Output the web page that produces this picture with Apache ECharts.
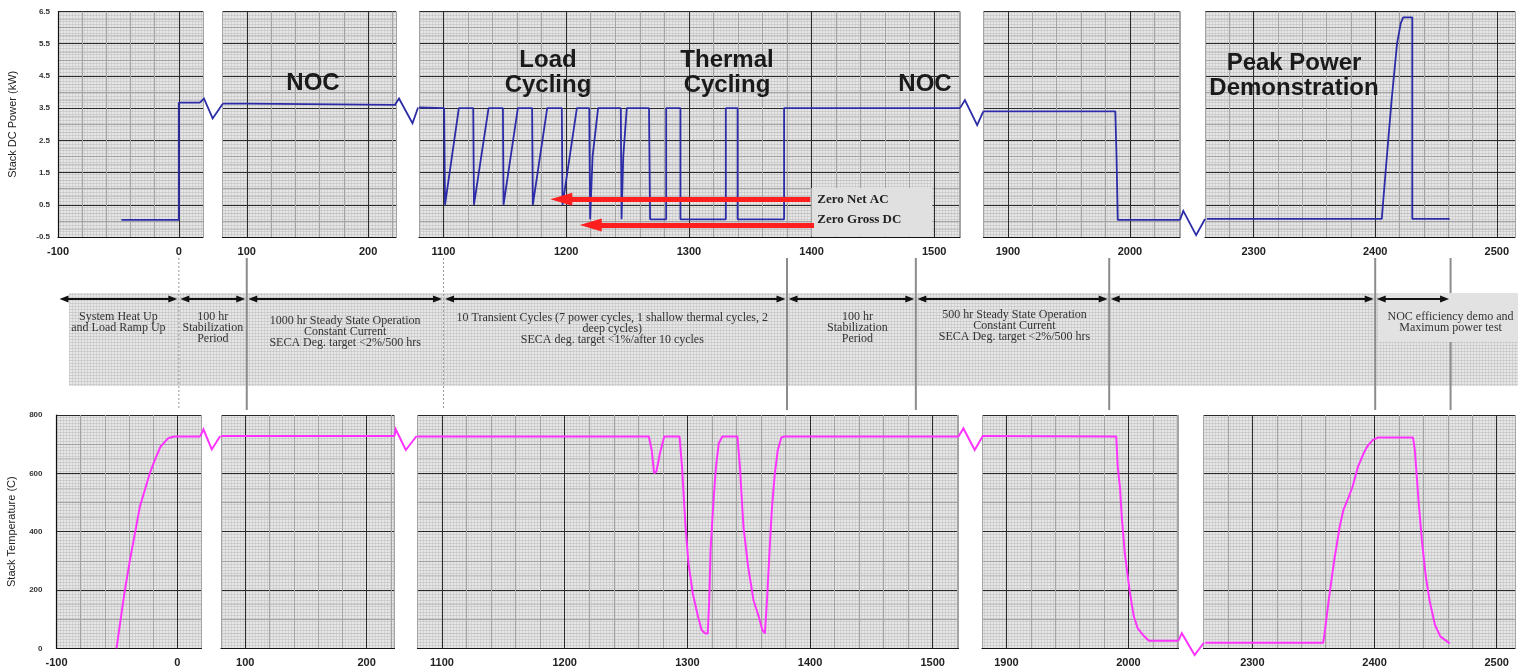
<!DOCTYPE html>
<html><head><meta charset="utf-8">
<script src="https://cdn.jsdelivr.net/npm/echarts@6/dist/echarts.min.js"></script>
<style>html,body{margin:0;padding:0;background:#fff}#c{width:1518px;height:670px}</style>
</head><body><div id="c"></div>
<script>
// ---------------- DATA ----------------
const panelHours = [[-100, 20], [80, 223], [1080, 1521], [1880, 2041], [2260, 2515]];
const powerRange = [-0.5, 6.5];
const tempRange = [0, 800];

const powerP1 = [[-47.5,0.03],[0,0.03],[0,3.67],[17.5,3.67]];
const powerP2 = [[80,3.64],[100,3.64],[100,3.6],[223,3.6]];
const powerP3 = [[1080,3.52],[1100.5,3.5],[1101.2,0.5],[1112.5,3.5],
  [1124.2,3.5],[1124.8,0.5],[1136.7,3.5],
  [1148.4,3.5],[1148.9,0.5],[1160.6,3.5],
  [1172.2,3.5],[1172.8,0.5],[1184.5,3.5],
  [1196.4,3.5],[1197,0.5],[1208.7,3.5],
  [1218.8,3.5],[1219.5,0.05],[1220.5,0.05],[1221.5,2.0],[1226,3.5],
  [1244.5,3.5],[1245.1,0.05],[1246,0.05],[1246.5,2.0],[1249.4,3.5],
  [1267.5,3.5],[1268.4,0.05],[1281.5,0.05],[1281.5,3.5],
  [1293.1,3.5],[1293.1,0.05],[1330.1,0.05],[1330.1,3.5],
  [1339.7,3.5],[1339.7,0.05],[1377.6,0.05],[1377.6,3.5],[1521,3.5]];
const powerP4 = [[1880,3.4],[1988,3.4],[1989,2.0],[1990,0.03],[2041,0.03]];
const powerP5 = [[2261.5,0.06],[2405.4,0.06],[2408.9,1.68],[2413.5,3.75],[2418,5.51],[2421,6.13],[2423,6.32],[2430.5,6.32],[2430.5,0.06],[2461.3,0.06]];

const tempP1 = [[-50.3,0],[-48.3,60],[-43.4,200],[-39.2,303],[-35.1,394],[-31,486],[-26.9,543],[-22.8,600],[-18.6,646],[-14,691],[-7.7,720],[-2.7,726],[18.9,726]];
const tempP2 = [[80,728],[223,728]];
const tempP3 = [[1080,726],[1268.6,726],[1270.9,680],[1272.9,600],[1274.7,606],[1277.6,668],[1281.1,726],
  [1293.6,726],[1295.6,623],[1298.5,417],[1300.9,291],[1304.4,188],[1308.7,108],[1311.6,63],[1314.6,51],[1316.6,51],
  [1317.8,165],[1318.9,337],[1321.3,508],[1323.3,623],[1325.6,703],[1328.5,726],
  [1340.8,726],[1342.8,623],[1345.7,417],[1349.5,280],[1353.9,165],[1358.2,108],[1361.1,63],[1363.2,51],
  [1364.9,165],[1367,337],[1369,486],[1371.3,600],[1373.7,680],[1376.6,723],[1378.6,726],[1521,726]];
const tempP4 = [[1880,728],[1990,726],[1991.2,623],[1993,554],[1994.5,451],[1997,326],[1999.1,257],[2000.9,200],[2003,143],[2004.5,108],[2007.6,68],[2012.1,45],[2016.7,26],[2041,26]];
const tempP5 = [[2261.5,19],[2358,19],[2359.5,63],[2362.5,165],[2367,302],[2371.5,417],[2374.5,474],[2379,520],[2382,554],[2386.5,623],[2391,668],[2394,692],[2398.5,714],[2403,723],[2431.5,723],[2433,680],[2436,508],[2439,360],[2442,246],[2445,165],[2449.5,80],[2454,40],[2461.6,17]];

// axis-break zigzags (in the left panel's hour units, continuing past its edge)
const powerBreaks = [
  [[17.5,3.67],[20.8,3.8],[28,3.18],[36.2,3.63]],
  [[222,3.6],[225.5,3.8],[236.6,3.03],[241.2,3.52]],
  [[1521,3.5],[1525,3.75],[1535,2.97],[1540,3.4]],
  [[2041,0.03],[2043.7,0.31],[2054.2,-0.44],[2061.5,0.06]]
];
const tempBreaks = [
  [[18.9,726],[21.6,751],[28.5,682],[35.5,728]],
  [[223,728],[224,751],[232.3,680],[241.3,728]],
  [[1521,726],[1525,754],[1534.2,680],[1540.8,728]],
  [[2041,26],[2043.7,52],[2054.2,-23],[2061.8,19]]
];

const zeroArrows = [
  {label:'Zero Net AC', from:[1399,0.67], to:[1196,0.67]},
  {label:'Zero Gross DC', from:[1402,-0.13], to:[1220,-0.13]}
];

const panelTitles = ['NOC', 'Load\nCycling', 'Thermal\nCycling', 'NOC', 'Peak Power\nDemonstration'];

// phase boundaries [panel, hour]
const phaseBounds = [[0,-100],[0,0],[1,100],[2,1100],[2,1380],[2,1485],[3,1983],[4,2400],[4,2462]];
const phaseNotes = [
  ['System Heat Up','and Load Ramp Up'],
  ['100 hr','Stabilization','Period'],
  ['1000 hr Steady State Operation','Constant Current','SECA Deg. target <2%/500 hrs'],
  ['10 Transient Cycles (7 power cycles, 1 shallow thermal cycles, 2','deep cycles)','SECA deg. target <1%/after 10 cycles'],
  ['100 hr','Stabilization','Period'],
  ['500 hr Steady State Operation','Constant Current','SECA Deg. target <2%/500 hrs'],
  [],
  ['NOC efficiency demo and','Maximum power test']
];

const powerData = [powerP1, powerP2, powerP3, powerP4, powerP5];
const tempData = [tempP1, tempP2, tempP3, tempP4, tempP5];

// ---------------- LAYOUT ----------------
const panelLeft = [58, 222.5, 419, 983.5, 1205];
const panelWidth = [145, 173.5, 541, 196.5, 313];
const bottomShift = -1.5;
const ROWS = [{top: 11.5, height: 225.5}, {top: 415, height: 233.3}];
const DARK = '#2a2a2a', GREY = '#a4a4a4', MINOR = '#c4c4c4';
const BLUE = '#2c2ca8', MAGENTA = '#ff33ff';
const titlePos = [[313,83],[548,73],[727,73],[925,84],[1294,75.5]];
const noteTop = [311,311,315,312,311,309,0,311];
const noteShift = [0,0,0,-3,6,2,0,null];

// fine dotted texture of the plot panels
const tex = document.createElement('canvas');
tex.width = 3; tex.height = 3;
(function () {
  const c = tex.getContext('2d');
  c.fillStyle = '#e6e6e6'; c.fillRect(0, 0, 3, 3);
  c.fillStyle = '#d0d0d0'; c.fillRect(0, 0, 3, 1);
  c.fillStyle = '#d4d4d4'; c.fillRect(0, 0, 1, 3);
  c.fillStyle = '#c6c6c6'; c.fillRect(0, 0, 1, 1);
})();
const BG = {image: tex, repeat: 'repeat'};

const chart = echarts.init(document.getElementById('c'));
const grids = [], xAxes = [], yAxes = [], series = [];

for (let row = 0; row < 2; row++) {
  for (let i = 0; i < 5; i++) {
    const gi = row * 5 + i;
    grids.push({left: panelLeft[i] + (row ? bottomShift : 0), width: panelWidth[i],
      top: ROWS[row].top, height: ROWS[row].height, show: true, backgroundColor: BG, borderWidth: 0});
    const [mn, mx] = panelHours[i];
    const k0 = (((mn % 100) + 100) % 100) / 20;
    const cols = [0,1,2,3,4].map(j => ((k0 + j) % 5 === 0) ? DARK : GREY);
    xAxes.push({type: 'value', gridIndex: gi, min: mn, max: mx, interval: 20,
      axisLine: {show: true, onZero: false, lineStyle: {color: '#111', width: 1.2}},
      axisTick: {show: false},
      axisLabel: {margin: 9, color: '#222', fontSize: 11, fontWeight: 'bold', fontFamily: 'Liberation Sans',
        formatter: v => Math.abs(v % 100) < 1e-6 ? String(Math.round(v)) : ''},
      splitLine: {show: true, lineStyle: {color: cols, width: 1}}
    });
    const yr = row ? tempRange : powerRange;
    yAxes.push({type: 'value', gridIndex: gi, min: yr[0], max: yr[1], interval: row ? 100 : 0.5,
      name: i === 0 ? (row ? 'Stack Temperature (C)' : 'Stack DC Power (kW)') : '',
      nameLocation: 'middle', nameGap: row ? 39 : 40, nameRotate: 90,
      nameTextStyle: {fontSize: 11, color: '#222', fontFamily: 'Liberation Sans'},
      axisLine: {show: i === 0, onZero: false, lineStyle: {color: '#111', width: 1.2}},
      axisTick: {show: false},
      axisLabel: {show: i === 0, margin: row ? 14 : 8, fontSize: 8, fontWeight: 'bold', color: '#333', fontFamily: 'Liberation Sans',
        formatter: row ? (v => (v % 200 === 0 ? String(v) : ''))
                       : (v => (Math.abs((v + 0.5) % 1) < 1e-6 ? v.toFixed(1) : ''))},
      splitLine: {show: true, lineStyle: {color: [DARK, GREY], width: 1}},
      minorTick: {show: false, splitNumber: 2},
      minorSplitLine: {show: true, lineStyle: {color: MINOR, width: 1}}
    });
    const main = {type: 'line', xAxisIndex: gi, yAxisIndex: gi, data: (row ? tempData : powerData)[i],
      showSymbol: false, silent: true, z: 3,
      lineStyle: {color: row ? MAGENTA : BLUE, width: row ? 2 : 1.8}};
    if (row === 0 && i === 2) {
      main.markLine = {silent: true, symbol: ['none', 'triangle'], symbolSize: [13, 22],
        label: {show: false}, lineStyle: {color: '#ff1f1f', width: 5, type: 'solid'},
        emphasis: {disabled: true},
        data: zeroArrows.map(a => [{coord: a.from}, {coord: a.to}])};
    }
    series.push(main);
  }
}

chart.setOption({animation: false, backgroundColor: '#fff', grid: grids, xAxis: xAxes, yAxis: yAxes, series: series});

// ---------------- ANNOTATIONS ----------------
const px = (p, h) => chart.convertToPixel({gridIndex: p}, [h, powerRange[0]])[0];
const g = [];

// break zigzags, extrapolated from each left panel's own scales
function mapper(gi, xr, yr) {
  const a = chart.convertToPixel({gridIndex: gi}, [xr[0], yr[0]]);
  const b = chart.convertToPixel({gridIndex: gi}, [xr[1], yr[1]]);
  return p => [a[0] + (p[0] - xr[0]) * (b[0] - a[0]) / (xr[1] - xr[0]),
               a[1] + (p[1] - yr[0]) * (b[1] - a[1]) / (yr[1] - yr[0])];
}
for (let i = 0; i < 4; i++) {
  const mp = mapper(i, panelHours[i], powerRange);
  g.push({type: 'polyline', shape: {points: powerBreaks[i].map(mp)}, style: {stroke: BLUE, lineWidth: 1.8, fill: null}, z: 3});
  const mt = mapper(i + 5, panelHours[i], tempRange);
  g.push({type: 'polyline', shape: {points: tempBreaks[i].map(mt)}, style: {stroke: MAGENTA, lineWidth: 2, fill: null}, z: 3});
}

// band
g.push({type: 'rect', shape: {x: 69, y: 293, width: 1518 - 69, height: 93}, style: {fill: {image: tex, repeat: 'repeat'}}, z: 1});
const bx = phaseBounds.map(b => px(b[0], b[1]));
// vertical phase lines
for (let k = 1; k < bx.length; k++) {
  const dotted = (k === 1 || k === 3);
  g.push({type: 'line', shape: {x1: bx[k], y1: 258, x2: bx[k], y2: 410},
    style: {stroke: dotted ? '#9a9a9a' : '#8c8c8c', lineWidth: dotted ? 1 : 2, lineDash: dotted ? [2, 2] : null}, z: 2});
}
// NOC demo text box
g.push({type: 'rect', shape: {x: bx[7] + 3, y: 293, width: 1518 - bx[7] - 3, height: 49}, style: {fill: '#e2e2e2'}, z: 3});
// arrows
const AY = 299;
for (let k = 0; k < bx.length - 1; k++) {
  const x1 = bx[k] + 1.5, x2 = bx[k + 1] - 1.5;
  g.push({type: 'line', shape: {x1: x1 + 4, y1: AY, x2: x2 - 4, y2: AY}, style: {stroke: '#111', lineWidth: 2}, z: 4});
  g.push({type: 'polygon', shape: {points: [[x1, AY], [x1 + 9, AY - 3.5], [x1 + 9, AY + 3.5]]}, style: {fill: '#111'}, z: 4});
  g.push({type: 'polygon', shape: {points: [[x2, AY], [x2 - 9, AY - 3.5], [x2 - 9, AY + 3.5]]}, style: {fill: '#111'}, z: 4});
}
// notes
phaseNotes.forEach((lines, k) => {
  if (!lines.length) return;
  const cx = noteShift[k] === null ? bx[k + 1] : (bx[k] + bx[k + 1]) / 2 + noteShift[k];
  g.push({type: 'text', x: cx, y: noteTop[k], z: 5,
    style: {text: lines.join('\n'), align: 'center', verticalAlign: 'top', fill: '#333',
      font: '12px "Liberation Serif"', lineHeight: 11}});
});
// panel titles
panelTitles.forEach((t, k) => {
  g.push({type: 'text', x: titlePos[k][0], y: titlePos[k][1], z: 1,
    style: {text: t, align: 'center', verticalAlign: 'middle', fill: '#1a1a1a',
      font: 'bold 24px "Liberation Sans"', lineHeight: 25}});
});
// zero labels box
const p1 = chart.convertToPixel({gridIndex: 2}, zeroArrows[0].from);
const p2 = chart.convertToPixel({gridIndex: 2}, zeroArrows[1].from);
const boxL = p1[0] + 1;
g.push({type: 'rect', shape: {x: boxL, y: 188, width: 121, height: 48.5}, style: {fill: '#e0e0e0'}, z: 1});
g.push({type: 'text', x: boxL + 6, y: p1[1], z: 5, style: {text: zeroArrows[0].label, verticalAlign: 'middle', fill: '#222', font: 'bold 13px "Liberation Serif"'}});
g.push({type: 'text', x: boxL + 6, y: p2[1] - 5, z: 5, style: {text: zeroArrows[1].label, verticalAlign: 'middle', fill: '#222', font: 'bold 13px "Liberation Serif"'}});

chart.setOption({graphic: g});
</script></body></html>
